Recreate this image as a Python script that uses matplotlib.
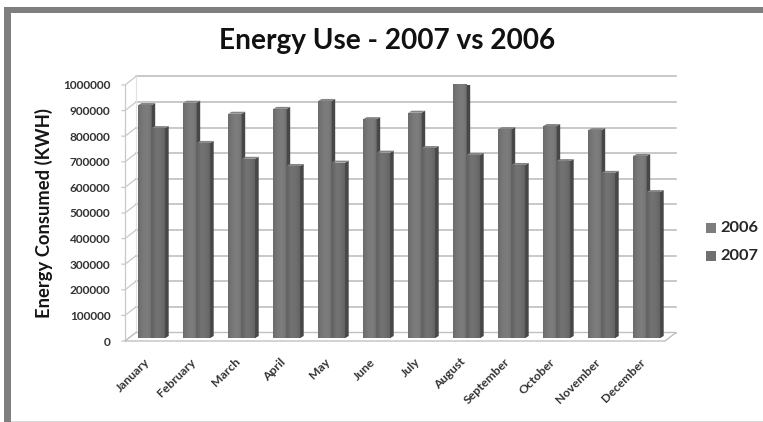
import numpy as np
import matplotlib
matplotlib.use("Agg")
import matplotlib.pyplot as plt
from matplotlib.patches import Polygon, Rectangle

months = ["January", "February", "March", "April", "May", "June", "July",
          "August", "September", "October", "November", "December"]
use_2006 = [910000, 919000, 876000, 895000, 926000, 855000,
            880000, 993000, 816000, 828000, 812000, 711000]
use_2007 = [820000, 762000, 700000, 672000, 685000, 724000,
            742000, 715000, 676000, 691000, 645000, 570000]
y_ticks = list(range(0, 1000001, 100000))

W, H = 763, 422
plt.rcParams["font.family"] = ["Lato", "DejaVu Sans"]
fig = plt.figure(figsize=(W / 100, H / 100), dpi=100, facecolor="white")

# Outer frame: heavy rule along the top and left, hairline along the bottom
fig.add_artist(Rectangle((4 / W, 0), 7 / W, 1 - 7 / H, transform=fig.transFigure, color="#7f7f7f", lw=0))
fig.add_artist(Rectangle((4 / W, 1 - 13 / H), 1 - 4 / W, 6 / H, transform=fig.transFigure, color="#7f7f7f", lw=0))
fig.add_artist(Rectangle((11 / W, 0), 1 - 11 / W, 1.5 / H, transform=fig.transFigure, color="#d8d8d8", lw=0))

# Front plane of the 3-D box, in pixel placement
L, R, B, T = 125, 665, 341, 85
ax = fig.add_axes([L / W, 1 - B / H, (R - L) / W, (B - T) / H])
ax.set_xlim(-0.5, 11.5)
ax.set_ylim(0, 1000000)
ax.patch.set_visible(False)
for s in ax.spines.values():
    s.set_visible(False)

px = 12 / (R - L)              # one pixel along x, in category units
py = 1000000 / (B - T)         # one pixel along y, in kWh
depth_x, depth_y = 11 * px, 8.5 * py
grid = "#b9b9b9"
x0, x1 = -0.5, 11.5

# Back wall gridlines, side-wall diagonals and tick stubs
for v in y_ticks:
    ax.plot([x0 + depth_x, x1 + depth_x], [v + depth_y] * 2, color=grid, lw=1.1, zorder=1, clip_on=False)
    ax.plot([x0 - 3 * px, x0, x0 + depth_x], [v, v, v + depth_y], color="#c8c8c8", lw=0.9, zorder=1, clip_on=False)
ax.plot([x0, x0], [0, 1000000], color="#c8c8c8", lw=0.9, zorder=1, clip_on=False)
ax.plot([x0 + depth_x] * 2, [depth_y, 1000000 + depth_y], color="#e2e2e2", lw=0.8, zorder=1, clip_on=False)
ax.add_patch(Polygon([(x0, 0), (x1, 0), (x1 + depth_x, depth_y), (x0 + depth_x, depth_y)],
                     closed=True, fc="white", ec="#c0c0c0", lw=1, zorder=1.5, clip_on=False))

bar_w = 13.5 * px
shift = 4 * px
lift = 3 * py
cap_x, cap_y = 3.5 * px, 2 * py
cmap_a = matplotlib.colors.LinearSegmentedColormap.from_list("a", ["#6c6c6c", "#787878", "#7e7e7e", "#707070"])
cmap_b = matplotlib.colors.LinearSegmentedColormap.from_list("b", ["#636363", "#747474", "#6e6e6e", "#606060"])
ramp = np.linspace(0, 1, 32).reshape(1, -1)


def draw_series(values, offset, cmap, z):
    xs = np.arange(len(values)) + offset
    bars = ax.bar(xs, values, width=bar_w, bottom=lift, color="#757575", lw=0, zorder=z)
    for rect, x, v in zip(bars, xs, values):
        left, right = x - bar_w / 2, x + bar_w / 2
        top = v + lift
        grad = ax.imshow(ramp, cmap=cmap, vmin=0, vmax=1, aspect="auto", zorder=z + 0.01,
                         extent=(left, right, lift, top), interpolation="bilinear")
        grad.set_clip_path(rect)
        ax.add_patch(Polygon([(right, lift), (right + cap_x, lift + cap_y),
                              (right + cap_x, top + cap_y), (right, top)],
                             closed=True, fc="#474747", lw=0, zorder=z + 0.02))
        ax.add_patch(Polygon([(left, top), (right, top),
                              (right + cap_x, top + cap_y), (left + cap_x, top + cap_y)],
                             closed=True, fc="#858585", lw=0, zorder=z + 0.02))


draw_series(use_2006, shift - bar_w / 2 + 0.2 * px, cmap_a, 2)
draw_series(use_2007, shift + bar_w / 2 + 0.2 * px, cmap_b, 3)
ax.set_xlim(x0, x1)
ax.set_ylim(0, 1000000)

# Axis text
ax.set_yticks(y_ticks, [str(v) for v in y_ticks])
ax.set_xticks(np.arange(12) - 3 * px, months)
ax.tick_params(axis="both", length=0)
ax.tick_params(axis="y", pad=10.5, labelsize=8.6, labelcolor="#333333")
ax.tick_params(axis="x", pad=11, labelsize=8.8, labelcolor="#333333")
for t in ax.get_yticklabels():
    t.set_fontweight("bold")
for t in ax.get_xticklabels():
    t.set_rotation(45)
    t.set_ha("right")
    t.set_rotation_mode("anchor")
    t.set_fontweight("bold")

fig.text(387 / W, 1 - 40.5 / H, "Energy Use - 2007 vs 2006", ha="center", va="center",
         fontsize=20.2, fontweight="bold", color="#111111")
fig.text(43.5 / W, 1 - 213 / H, "Energy Consumed (KWH)", rotation=90, ha="center", va="center",
         fontsize=13.2, fontweight="bold", color="#151515")

# Legend
for name, colour, cy in (("2006", "#7d7d7d", 228), ("2007", "#6f6f6f", 256)):
    fig.add_artist(Rectangle((706 / W, 1 - (cy + 5) / H), 10 / W, 10 / H,
                             transform=fig.transFigure, color=colour, lw=0))
    fig.text(720 / W, 1 - cy / H, name, ha="left", va="center", fontsize=11.8,
             fontweight="bold", color="#262626")

fig.savefig("out.png", dpi=100)
